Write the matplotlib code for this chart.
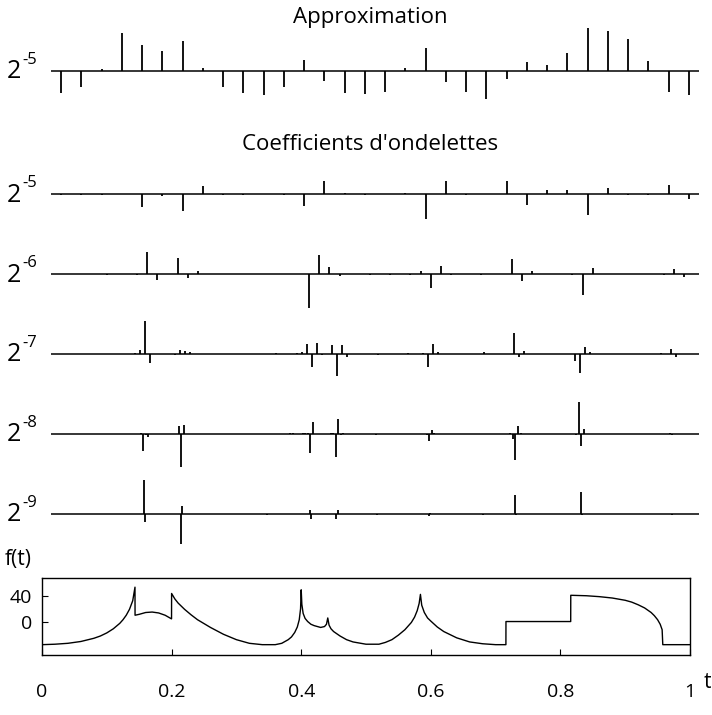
import numpy as np
import matplotlib
matplotlib.use("Agg")
from matplotlib import pyplot as plt

plt.rcParams['font.family'] = ['Open Sans', 'DejaVu Sans']

# approximation coefficients at scale 2^-5 (32 values)
approx = [-22.6, -16, 1.7, 37.4, 25.7, 19.7, 29.7, 2.4,
          -16, -22, -24, -16, 10.7, -10, -22, -23.3,
          -21, 2.4, 22.4, -11, -21, -28, -8, 8.4,
          5.7, 18, 42.4, 39.7, 31.7, 9.7, -21.3, -24.3]

# wavelet coefficients, sparse: index -> value
detail5 = {0: -0.8, 1: -0.8, 2: -0.8, 4: -12.7, 5: -2, 6: -17.3, 7: 8.3, 8: -0.6,
           9: -0.6, 11: -0.6, 12: -11.7, 13: 13, 14: 1, 15: -0.8, 17: 1,
           18: -25, 19: 13, 20: -1, 22: 13, 23: -11, 24: 4, 25: 4, 26: -21.3,
           27: 6, 28: -0.6, 29: -1, 30: 8.7, 31: -5}
detail6 = {5: -0.5, 8: -1, 9: 22.6, 10: -6, 12: 16.6, 13: -4, 14: 3.3, 24: 0.8,
           25: -33.4, 26: 19.3, 27: 7, 28: -1.2, 29: 0.6, 31: -0.5, 33: -0.5,
           35: -0.5, 36: 3.3, 37: -13.4, 38: 8.3, 39: -1, 42: -0.5, 45: 15.3,
           46: -6.7, 47: 3.3, 51: -0.8, 52: -20.6, 53: 6, 56: 0.5, 60: -0.8,
           61: 5, 62: -2.3}
detail7 = {15: -0.6, 16: 0.6, 17: 3.7, 18: 33, 19: -9.6, 20: -0.8, 24: -1.5,
           25: 3.7, 26: 3, 27: 2, 44: 0.5, 48: 0.6, 49: 1.2, 50: 9.7, 51: -13,
           52: 10.4, 53: -1.2, 55: 8.7, 56: -22.3, 57: 8.7, 58: -3, 64: -1.2,
           70: 0.5, 73: 0.6, 74: -13.6, 75: 9.7, 76: 1.2, 85: 1.2, 86: -0.6,
           91: 21, 92: -3.6, 93: 3, 103: -7, 104: -19, 105: 7, 106: 1.2,
           120: 0.5, 122: 4.4, 123: -3.6}
detail8 = {35: 1, 36: -17, 37: -1, 38: -3, 50: 8, 51: -33.6, 52: 8.7,
           94: 0.6, 95: 0.6, 99: 0.6, 100: 0.8, 101: 1.2, 102: -19.6, 103: 11.4,
           104: -0.6, 106: -0.5, 110: 0.8, 111: 1, 112: -23.6, 113: 14.4, 114: -1, 115: 0.6,
           127: -0.6, 128: -1.2, 148: -1, 149: -7, 150: 3.7, 151: 0.6,
           180: -0.6, 181: 0.6, 182: -5.6, 183: -26.3, 184: 8, 185: 1.2,
           207: -1.2, 208: 32, 209: -12.3, 210: 4.7, 244: 0.6, 245: -1.2}
detail9 = {73: 33.7, 74: -8.6, 102: -30.3, 103: 8, 170: -0.8, 204: 3.7, 205: -5.3,
           225: -5.3, 226: 3.7, 257: -1.2, 298: -2, 299: 1, 341: -1.2,
           366: 18.7, 367: -1.5, 418: 21.4, 419: -1.5, 490: -1.2}

details = [('-5', 32, detail5), ('-6', 64, detail6), ('-7', 128, detail7),
           ('-8', 256, detail8), ('-9', 512, detail9)]

# signal f(t)
t_sig = [0.0, 0.02, 0.04, 0.06, 0.08, 0.09, 0.10, 0.11, 0.12, 0.125, 0.13, 0.135, 0.14, 0.1435,
         0.1436, 0.15, 0.16, 0.17, 0.18, 0.19, 0.1999,
         0.2, 0.205, 0.21, 0.22, 0.23, 0.24, 0.26, 0.28, 0.30, 0.32, 0.34, 0.36,
         0.37, 0.38, 0.385, 0.39, 0.394, 0.397, 0.399, 0.4, 0.401, 0.403, 0.406, 0.41,
         0.415, 0.42, 0.43, 0.436, 0.439, 0.441, 0.443, 0.446, 0.45, 0.46, 0.47,
         0.48, 0.50, 0.52, 0.53, 0.54, 0.55, 0.56, 0.57, 0.575, 0.579, 0.582, 0.584,
         0.586, 0.59, 0.595, 0.60, 0.61, 0.62, 0.64, 0.66, 0.68, 0.70, 0.7159,
         0.716, 0.75, 0.80, 0.8159, 0.816, 0.84, 0.86, 0.88, 0.90, 0.91, 0.92,
         0.93, 0.94, 0.945, 0.95, 0.954, 0.957, 0.958, 0.97, 1.0]
f_sig = [-34.9, -34.2, -32.8, -30.0, -25.1, -21.6, -16.8, -10.5, -2.1, 3.5, 10.4, 19.5, 32.7, 53.6,
         10.4, 11.8, 14.6, 15.3, 13.9, 10.4, 4.8,
         43.9, 35.5, 29.2, 19.5, 11.1, 3.5, -8.4, -18.9, -27.2, -32.8, -34.9, -34.9,
         -32.8, -27.2, -23.0, -16.1, -7.7, 3.5, 20.2, 49.5, 27.2, 13.2, 5.5, 0.7,
         -3.5, -5.6, -8.4, -7.0, -3.5, 6.2, -4.9, -10.5, -14.7, -21.6, -27.2,
         -30.7, -34.2, -34.2, -31.4, -27.2, -20.2, -11.9, -0.7, 7.6, 17.4, 28.5, 42.5,
         25.8, 14.6, 6.2, 1.4, -7.7, -14.7, -24.4, -30.7, -33.5, -34.9, -34.9,
         0.7, 0.7, 0.7, 0.7, 41.1, 40.4, 39.0, 36.9, 33.4, 30.6, 26.5,
         21.6, 14.6, 9.7, 3.5, -3.5, -11.9, -34.9, -34.9, -34.9]

fig = plt.figure(figsize=(7.12, 7.15), dpi=100)
W, H = 712.0, 715.0


def row_axes(center, half):
    ax = fig.add_axes([51 / W, 1 - (center + half) / H, 648 / W, 2 * half / H])
    ax.set_xlim(0, 1)
    ax.set_ylim(-half, half)
    ax.axis('off')
    return ax


def draw_row(ax, vals, expo, center):
    n = len(vals)
    pos = (np.arange(n) + 0.5) / n
    ax.axhline(0, color='black', lw=1.1)
    ax.vlines(pos, 0, vals, color='black', lw=1.3)
    fig.text(21 / W, 1 - (center + 1) / H, '2', ha='right', va='center', fontsize=18)
    fig.text(22 / W, 1 - (center - 11) / H, expo, ha='left', va='center', fontsize=12)


ax = row_axes(70.7, 46)
draw_row(ax, np.array(approx), '-5', 70.7)
fig.text(370 / W, 1 - 18 / H, 'Approximation', ha='center', va='center', fontsize=16)
fig.text(370 / W, 1 - 145 / H, "Coefficients d'ondelettes", ha='center', va='center', fontsize=16)

centers = [194, 274.3, 353.7, 433.7, 513.7]
for (expo, n, coefs), c in zip(details, centers):
    vals = np.zeros(n)
    for k, v in coefs.items():
        vals[k] = v
    ax = row_axes(c, 39)
    draw_row(ax, vals, expo, c)

# signal panel
axs = fig.add_axes([42 / W, 1 - 655 / H, 648 / W, 77 / H])
axs.plot(t_sig, f_sig, color='black', lw=1.0)
axs.set_xlim(0, 1)
axs.set_ylim(-50.8, 67.7)
axs.set_xticks([0, 0.2, 0.4, 0.6, 0.8, 1])
axs.set_xticklabels(['0', '0.2', '0.4', '0.6', '0.8', '1'])
axs.set_yticks([0, 40])
axs.tick_params(direction='in', length=4, labelsize=14, width=0.8)
axs.tick_params(axis='x', pad=20)
axs.tick_params(axis='y', pad=7)
for s in axs.spines.values():
    s.set_linewidth(1.0)
fig.text(5 / W, 1 - 560 / H, 'f(t)', ha='left', va='center', fontsize=15)
fig.text(707 / W, 1 - 683 / H, 't', ha='center', va='center', fontsize=15)

fig.savefig('out.png', dpi=100)
